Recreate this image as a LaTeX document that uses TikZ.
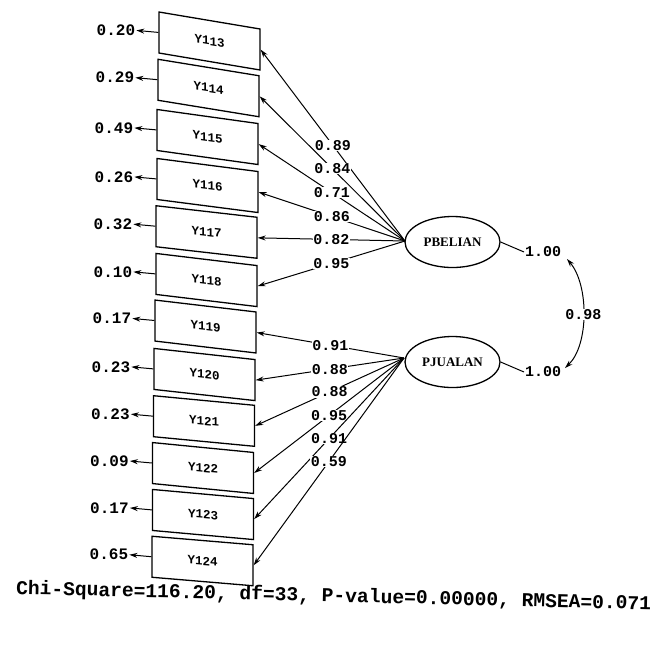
\documentclass[tikz,border=0pt]{standalone}
\usepackage{fontspec}
\setmonofont{Liberation Mono}
\newfontfamily\latfont{Liberation Serif}
\usetikzlibrary{shapes.geometric,arrows.meta}
\tikzset{
  obs/.style={draw, line width=1.3pt, minimum width=101pt, minimum height=41pt, inner sep=0pt,
    font=\ttfamily\bfseries\fontsize{12.5}{12.5}\selectfont},
  lat/.style={draw, ellipse, line width=1.3pt, minimum width=95pt, minimum height=51pt, inner sep=0pt,
    font=\latfont\bfseries\fontsize{13}{13}\selectfont},
  num/.style={font=\ttfamily\bfseries\fontsize{15}{15}\selectfont, inner sep=1pt},
  errlab/.style={font=\ttfamily\bfseries\fontsize{16}{16}\selectfont, inner sep=1pt, anchor=east},
  lab/.style={num, fill=white, inner sep=0.5pt},
  arr/.style={-{Stealth[length=8pt,width=5pt]}, line width=1pt},
  plain/.style={line width=1pt},
}
\begin{document}
\begin{tikzpicture}[x=1pt, y=-1pt]
\useasboundingbox (0,0) rectangle (663,649);
% observed variables
\node[obs, yslant=-0.168] (y113) at (209.5,41) {Y113};
\node[obs, yslant=-0.163] (y114) at (208.5,88) {Y114};
\node[obs, yslant=-0.139] (y115) at (207.5,137) {Y115};
\node[obs, yslant=-0.129] (y116) at (207.5,185.5) {Y116};
\node[obs, yslant=-0.114] (y117) at (206.5,232) {Y117};
\node[obs, yslant=-0.120] (y118) at (206.5,280) {Y118};
\node[obs, yslant=-0.118] (y119) at (205.5,326.5) {Y119};
\node[obs, yslant=-0.110] (y120) at (204.5,374.5) {Y120};
\node[obs, yslant=-0.095] (y121) at (204,421) {Y121};
\node[obs, yslant=-0.098] (y122) at (203,468) {Y122};
\node[obs, yslant=-0.090] (y123) at (203,514.5) {Y123};
\node[obs, yslant=-0.084] (y124) at (202.5,561) {Y124};
% error variances
\foreach \v/\e in {113/0.20,114/0.29,115/0.49,116/0.26,117/0.32,118/0.10,119/0.17,120/0.23,121/0.23,122/0.09,123/0.17,124/0.65}{
  \node[errlab] (e\v) at ([xshift=-22pt,yshift=2pt]y\v.west) {\e};
  \draw[arr] (y\v.west) -- (e\v.east);
}
% latent variables
\node[lat] (pb) at (452.5,242) {PBELIAN};
\node[lat] (pj) at (452.5,362) {PJUALAN};
\coordinate (pbc) at (405,241);
\coordinate (pjc) at (404,358);
% loadings
\foreach \v/\l in {113/0.89,114/0.84,115/0.71,116/0.86,117/0.82,118/0.95}{
  \draw[arr] (pbc) -- node[lab]{\l} (y\v.east);
}
\foreach \v/\l in {119/0.91,120/0.88,121/0.88,122/0.95,123/0.91,124/0.59}{
  \draw[arr] (pjc) -- node[lab]{\l} (y\v.east);
}
% variances and covariance
\node[num, anchor=west] (v1) at (524,252) {1.00};
\node[num, anchor=west] (v2) at (524,372) {1.00};
\draw[plain] (pb.east) -- (v1.west);
\draw[plain] (pj.east) -- (v2.west);
\coordinate (c1) at (567,259);
\coordinate (c2) at (565,368);
\draw[{Stealth[length=8pt,width=5pt]}-{Stealth[length=8pt,width=5pt]}, line width=1pt]
  (c1) .. controls (589,285) and (589,345) .. node[lab]{0.98} (c2);
% fit statistics
\node[font=\ttfamily\bfseries\fontsize{19.6}{19.6}\selectfont, inner sep=0pt, anchor=west, rotate=-1.4] (fit) at (16,589)
  {Chi-Square=116.20, df=33, P-value=0.00000, RMSEA=0.071};
\end{tikzpicture}
\end{document}
